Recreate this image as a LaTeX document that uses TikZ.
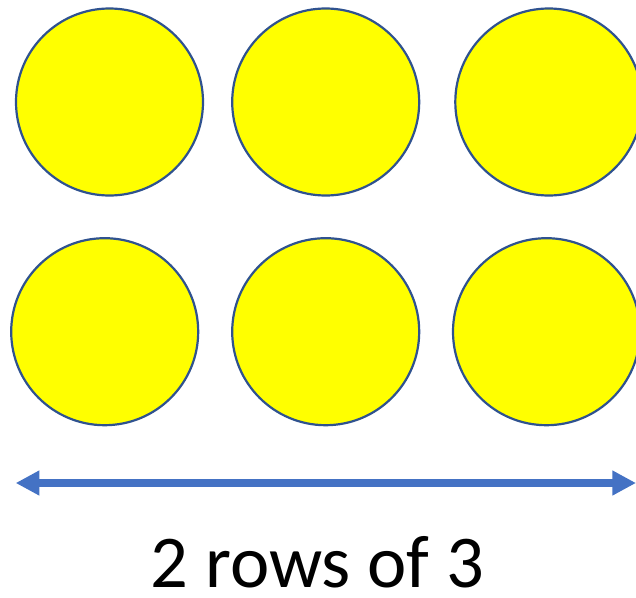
\documentclass[tikz,border=0pt]{standalone}
\usepackage{fontspec}
\setmainfont{Carlito}
\usepackage{xcolor}
\usetikzlibrary{arrows.meta}
\definecolor{bg}{HTML}{FFFFFF}
\definecolor{dotfill}{HTML}{FFFF00}
\definecolor{dotline}{HTML}{2F528F}
\definecolor{arrowc}{HTML}{4472C4}
\definecolor{text}{HTML}{000000}
\tikzset{
  counter/.style={circle, draw=dotline, fill=dotfill, line width=2.2pt, minimum size=187pt, inner sep=0pt},
  span/.style={draw=arrowc, line width=7.7pt, {Triangle[length=23.6pt,width=23.4pt]}-{Triangle[length=23.6pt,width=23.4pt]}},
  lab/.style={text=text, font=\fontsize{74.5}{80}\selectfont, anchor=base, inner sep=0pt, text depth=0pt},
}

\begin{document}
\begin{tikzpicture}[x=1pt,y=-1pt]
  \useasboundingbox (0,0) rectangle (636,597);
  \clip (0,0) rectangle (636,597);
  \fill[bg] (0,0) rectangle (636,597);

  % two rows of three
  \foreach \n/\x/\y in {a1/109.5/102, a2/325.7/102, a3/548.8/102,
                        b1/104.7/331.7, b2/325.7/331.7, b3/546.5/331.7}{
    \node[counter] (\n) at (\x,\y) {};
  }

  \coordinate (L) at (15.7,483);
  \coordinate (R) at (636,483);
  \draw[span] (L) -- (R);

  \node[lab] (caption) at (317.5,587.3) {2 rows of 3};
\end{tikzpicture}
\end{document}
